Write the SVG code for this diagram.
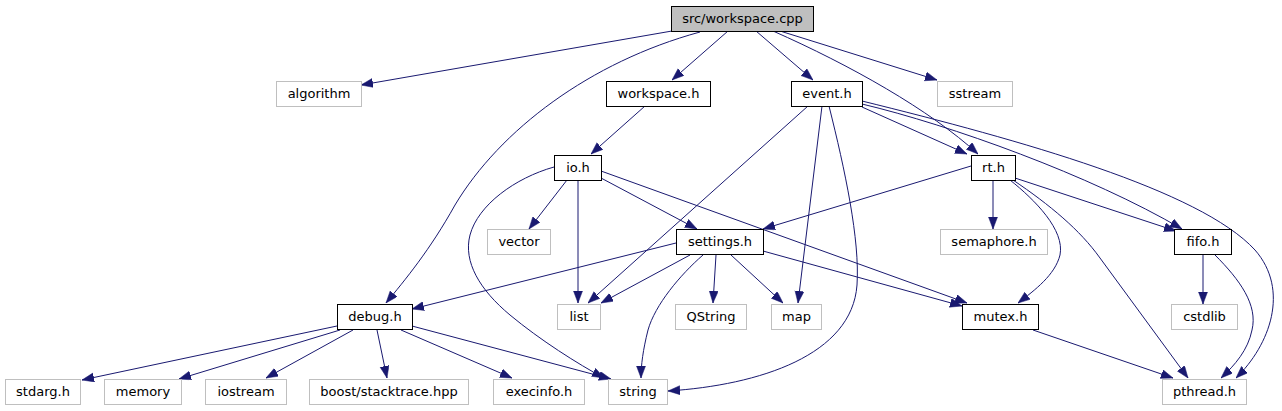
<svg xmlns="http://www.w3.org/2000/svg" width="1282" height="411" viewBox="0 0 1282 411">
<style>
.n rect{fill:#fff;stroke:#000;stroke-width:1}
.g rect{fill:#fff;stroke:#bfbfbf;stroke-width:1}
.r rect{fill:#bfbfbf;stroke:#000;stroke-width:1}
text{font-family:"DejaVu Sans",sans-serif;font-size:13px;fill:#000;text-anchor:middle}
#edges path{fill:none;stroke:#191970;stroke-width:1;marker-end:url(#ah)}
</style>
<defs>
<marker id="ah" markerUnits="userSpaceOnUse" markerWidth="12" markerHeight="10" refX="12" refY="4.5" orient="auto">
<path d="M0,0 L12,4.5 L0,9 z" fill="#191970" stroke="#191970" stroke-width="0.5"/>
</marker>
</defs>
<rect width="1282" height="411" fill="#fff"/>
<g id="edges">
<path d="M672,31 L361,85"/>
<path d="M700,32 C590,62 500,130 455,205 C430,250 405,280 386,303"/>
<path d="M728,31 L672,80"/>
<path d="M756,31 L813,80"/>
<path d="M780,31 L937,80"/>
<path d="M773,31 C850,65 930,110 978,154"/>
<path d="M645,106 L591,154"/>
<path d="M808,106 L588,303"/>
<path d="M822,106 L798,303"/>
<path d="M829,106 C845,170 860,240 857,285 C852,355 760,385 668,391"/>
<path d="M862,107 L967,154"/>
<path d="M862,104 C950,125 1090,175 1182,229"/>
<path d="M862,101 C1020,140 1200,190 1255,250 C1290,290 1270,345 1236,378"/>
<path d="M971,166 L763,229"/>
<path d="M993,180 L993,229"/>
<path d="M1010,180 C1035,200 1065,230 1060,255 C1055,275 1035,290 1018,303"/>
<path d="M1013,180 C1050,205 1080,230 1100,258 L1188,378"/>
<path d="M1015,178 L1176,231"/>
<path d="M1215,255 C1240,280 1258,305 1252,330 C1248,350 1235,365 1221,378"/>
<path d="M1203,255 L1203,304"/>
<path d="M1033,330 L1173,378"/>
<path d="M554,167 C515,178 478,205 470,235 C463,262 480,290 510,315 C540,340 578,364 604,378"/>
<path d="M567,180 L529,229"/>
<path d="M578,180 L578,303"/>
<path d="M601,178 L697,229"/>
<path d="M601,171 L967,303"/>
<path d="M676,243 L412,309"/>
<path d="M690,255 L601,303"/>
<path d="M703,255 C680,275 655,305 648,330 C643,350 641,365 641,378"/>
<path d="M716,255 L713,303"/>
<path d="M731,255 L783,303"/>
<path d="M763,251 L962,306"/>
<path d="M337,326 L82,380"/>
<path d="M340,330 L179,379"/>
<path d="M353,330 L266,378"/>
<path d="M377,330 L387,378"/>
<path d="M401,330 L512,378"/>
<path d="M412,326 L611,379"/>
</g>
<g id="n_workspace_cpp" class="r"><rect x="671.5" y="6.5" width="142" height="25"/><text x="742.5" y="23">src/workspace.cpp</text></g>
<g id="n_algorithm" class="g"><rect x="276.5" y="81.5" width="85" height="25"/><text x="319" y="98">algorithm</text></g>
<g id="n_workspace_h" class="n"><rect x="606.5" y="81.5" width="104" height="25"/><text x="658.5" y="98">workspace.h</text></g>
<g id="n_event_h" class="n"><rect x="791.5" y="81.5" width="71" height="25"/><text x="827" y="98">event.h</text></g>
<g id="n_sstream" class="g"><rect x="937.5" y="81.5" width="75" height="25"/><text x="975" y="98">sstream</text></g>
<g id="n_io_h" class="n"><rect x="554.5" y="155.5" width="47" height="25"/><text x="578" y="172">io.h</text></g>
<g id="n_rt_h" class="n"><rect x="971.5" y="155.5" width="44" height="25"/><text x="993.5" y="172">rt.h</text></g>
<g id="n_vector" class="g"><rect x="487.5" y="229.5" width="63" height="25"/><text x="519" y="246">vector</text></g>
<g id="n_settings_h" class="n"><rect x="676.5" y="229.5" width="87" height="25"/><text x="720" y="246">settings.h</text></g>
<g id="n_semaphore_h" class="g"><rect x="940.5" y="229.5" width="107" height="25"/><text x="994" y="246">semaphore.h</text></g>
<g id="n_fifo_h" class="n"><rect x="1174.5" y="229.5" width="57" height="25"/><text x="1203" y="246">fifo.h</text></g>
<g id="n_debug_h" class="n"><rect x="337.5" y="304.5" width="75" height="25"/><text x="375" y="321">debug.h</text></g>
<g id="n_list" class="g"><rect x="557.5" y="304.5" width="43" height="25"/><text x="579" y="321">list</text></g>
<g id="n_QString" class="g"><rect x="675.5" y="304.5" width="71" height="25"/><text x="711" y="321">QString</text></g>
<g id="n_map" class="g"><rect x="771.5" y="304.5" width="50" height="25"/><text x="796.5" y="321">map</text></g>
<g id="n_mutex_h" class="n"><rect x="962.5" y="304.5" width="76" height="25"/><text x="1000.5" y="321">mutex.h</text></g>
<g id="n_cstdlib" class="g"><rect x="1171.5" y="304.5" width="66" height="25"/><text x="1204.5" y="321">cstdlib</text></g>
<g id="n_stdarg_h" class="g"><rect x="5.5" y="379.5" width="75" height="25"/><text x="43" y="396">stdarg.h</text></g>
<g id="n_memory" class="g"><rect x="104.5" y="379.5" width="77" height="25"/><text x="143" y="396">memory</text></g>
<g id="n_iostream" class="g"><rect x="205.5" y="379.5" width="81" height="25"/><text x="246" y="396">iostream</text></g>
<g id="n_boost_stacktrace" class="g"><rect x="309.5" y="379.5" width="159" height="25"/><text x="389" y="396">boost/stacktrace.hpp</text></g>
<g id="n_execinfo_h" class="g"><rect x="493.5" y="379.5" width="91" height="25"/><text x="539" y="396">execinfo.h</text></g>
<g id="n_string" class="g"><rect x="608.5" y="379.5" width="59" height="25"/><text x="638" y="396">string</text></g>
<g id="n_pthread_h" class="g"><rect x="1162.5" y="379.5" width="84" height="25"/><text x="1204.5" y="396">pthread.h</text></g>
</svg>
